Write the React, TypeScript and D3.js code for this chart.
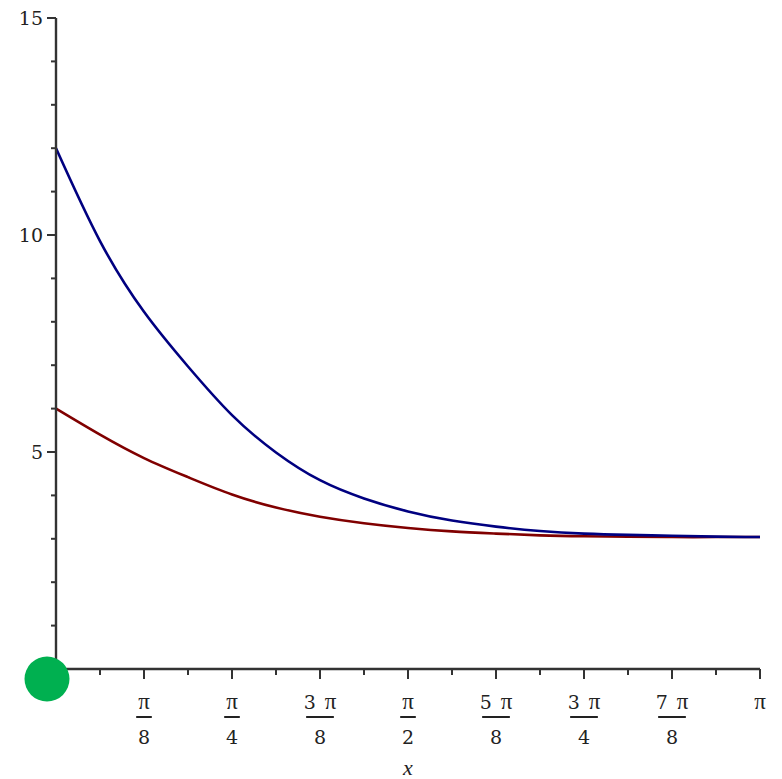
import React, { useEffect, useRef } from 'react';
import * as d3 from 'd3';

// x positions in sixteenths of pi
const xSixteenths = [0, 1, 2, 3, 4, 5, 6, 7, 8, 9, 10, 11, 12, 13, 14, 15, 16];
const blueValues = [12.0, 9.86, 8.23, 6.97, 5.85, 4.99, 4.35, 3.93, 3.63, 3.42, 3.28, 3.18, 3.12, 3.09, 3.07, 3.05, 3.04];
const redValues = [6.0, 5.4, 4.86, 4.42, 4.02, 3.72, 3.51, 3.36, 3.25, 3.17, 3.12, 3.08, 3.06, 3.05, 3.04, 3.04, 3.04];

const xTickEighths = [1, 2, 3, 4, 5, 6, 7, 8];
const xTickCoefficients = ['', '', '3', '', '5', '3', '7', ''];
const xTickDenominators = ['8', '4', '8', '2', '8', '4', '8', ''];
const yTickLabels = [5, 10, 15];

const App = () => {
  const svgRef = useRef<SVGSVGElement>(null);

  useEffect(() => {
    if (!svgRef.current) return;
    const svg = d3.select(svgRef.current);
    svg.selectAll('*').remove();

    const x = d3.scaleLinear().domain([0, Math.PI]).range([56, 760]);
    const y = d3.scaleLinear().domain([0, 15]).range([669, 18]);
    const axisColor = '#333';
    const textColor = '#222';
    const font = '"DejaVu Serif", serif';
    const piFont = '"Liberation Serif", serif';

    // curves
    const line = d3.line<number>()
      .x((d, i) => x((xSixteenths[i] * Math.PI) / 16))
      .y(d => y(d))
      .curve(d3.curveNatural);

    svg.append('path')
      .datum(redValues)
      .attr('fill', 'none')
      .attr('stroke', '#800000')
      .attr('stroke-width', 2.6)
      .attr('d', line);

    svg.append('path')
      .datum(blueValues)
      .attr('fill', 'none')
      .attr('stroke', '#000080')
      .attr('stroke-width', 2.6)
      .attr('d', line);

    // axes lines
    svg.append('line')
      .attr('x1', x(0)).attr('x2', x(0))
      .attr('y1', y(15)).attr('y2', y(0))
      .attr('stroke', axisColor).attr('stroke-width', 2.4);
    svg.append('line')
      .attr('x1', x(0)).attr('x2', x(Math.PI))
      .attr('y1', y(0)).attr('y2', y(0))
      .attr('stroke', axisColor).attr('stroke-width', 2.4);

    // y ticks, one per unit
    svg.append('g')
      .selectAll('line')
      .data(d3.range(1, 16))
      .enter()
      .append('line')
      .attr('x1', d => x(0) - (d % 5 === 0 ? 9 : 5))
      .attr('x2', x(0))
      .attr('y1', d => y(d))
      .attr('y2', d => y(d))
      .attr('stroke', axisColor)
      .attr('stroke-width', 2);

    svg.append('g')
      .selectAll('text')
      .data(yTickLabels)
      .enter()
      .append('text')
      .attr('x', 43)
      .attr('y', d => y(d))
      .attr('dy', '0.36em')
      .attr('text-anchor', 'end')
      .attr('font-family', font)
      .attr('font-size', 19)
      .attr('fill', textColor)
      .text(d => d);

    // x ticks, every pi/16
    svg.append('g')
      .selectAll('line')
      .data(d3.range(1, 17))
      .enter()
      .append('line')
      .attr('x1', d => x((d * Math.PI) / 16))
      .attr('x2', d => x((d * Math.PI) / 16))
      .attr('y1', y(0))
      .attr('y2', d => y(0) + (d % 2 === 0 ? 10 : 6))
      .attr('stroke', axisColor)
      .attr('stroke-width', 2);

    // fraction tick labels
    xTickEighths.forEach((k, i) => {
      const cx = x((k * Math.PI) / 8);
      const num = svg.append('text')
        .attr('x', cx)
        .attr('y', 702)
        .attr('dy', '0.36em')
        .attr('text-anchor', 'middle')
        .attr('font-family', font)
        .attr('font-size', 19)
        .attr('fill', textColor);
      if (xTickCoefficients[i]) {
        num.append('tspan').text(xTickCoefficients[i]);
        num.append('tspan').attr('dx', 9).attr('font-family', piFont).attr('font-size', 23).text('π');
      } else {
        num.append('tspan').attr('font-family', piFont).attr('font-size', 23).text('π');
      }
      if (xTickDenominators[i]) {
        const w = (num.node() as SVGTextElement).getComputedTextLength() + 4;
        svg.append('line')
          .attr('x1', cx - w / 2).attr('x2', cx + w / 2)
          .attr('y1', 717).attr('y2', 717)
          .attr('stroke', textColor)
          .attr('stroke-width', 2);
        svg.append('text')
          .attr('x', cx)
          .attr('y', 737)
          .attr('dy', '0.36em')
          .attr('text-anchor', 'middle')
          .attr('font-family', font)
          .attr('font-size', 19)
          .attr('fill', textColor)
          .text(xTickDenominators[i]);
      }
    });

    // axis title
    svg.append('text')
      .attr('x', x(Math.PI / 2))
      .attr('y', 768)
      .attr('dy', '0.33em')
      .attr('text-anchor', 'middle')
      .attr('font-family', piFont)
      .attr('font-style', 'italic')
      .attr('font-size', 22)
      .attr('fill', textColor)
      .text('x');

    // green marker at the origin corner
    svg.append('circle')
      .attr('cx', 47)
      .attr('cy', 679)
      .attr('r', 22.5)
      .attr('fill', '#00b050');
  }, []);

  return (
    <svg
      ref={svgRef}
      width={782}
      height={779}
      style={{ position: 'absolute', left: 0, top: 0, background: '#fff' }}
    />
  );
};

export default App;
